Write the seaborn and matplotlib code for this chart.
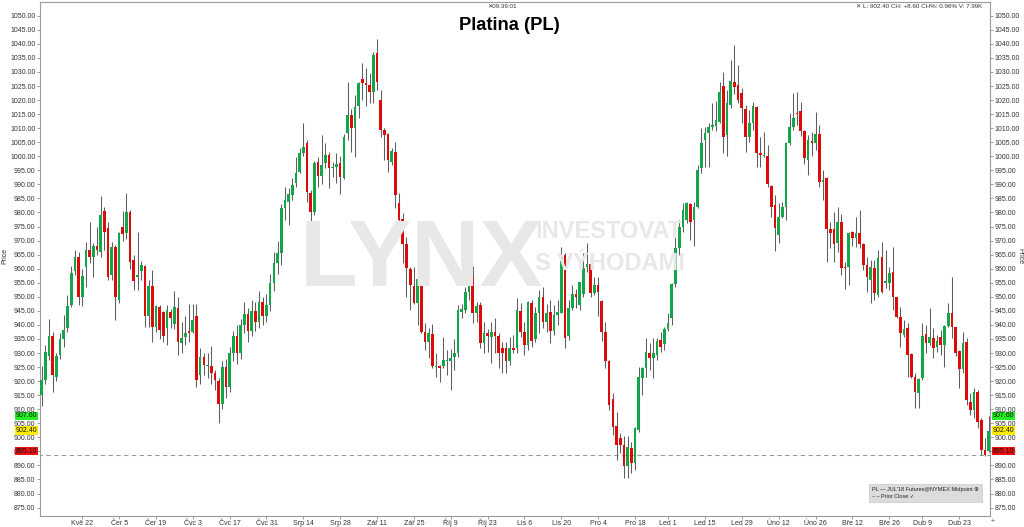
import numpy as np
import pandas as pd
import matplotlib
matplotlib.use("Agg")
import matplotlib.pyplot as plt
import seaborn as sns

# daily OHLC, PL (platinum) JUL'18 futures, May 2017 - May 2018
opens = [
    915, 920.5, 929, 936, 921.6, 929.3, 935, 939, 947, 959.3,
    964, 950, 960.7, 966.7, 964, 968, 966, 980.6, 974.4, 957.8,
    967.6, 949, 974.7, 972.6, 980, 963, 957.2, 959.3, 961, 943,
    954, 939.4, 946.5, 944.7, 939, 944.7, 940.3, 946, 933.7, 935.6,
    937.8, 937.6, 943, 922.2, 928.5, 925.5, 925.4, 923, 920, 912,
    925, 918, 930, 936, 930, 940, 944, 938, 945, 941,
    948, 943, 947, 955, 962, 965.5, 981.5, 983.8, 986.2, 990.4,
    994.5, 1001, 1004.6, 987, 980, 998.1, 993, 997.5, 1000.4, 995.8,
    996.3, 997.5, 992.1, 1008.2, 1014.7, 1010, 1017.9, 1027.4, 1026.2, 1025.4,
    1023, 1036.6, 1020.2, 1009.3, 1007.9, 998.1, 1001.6, 983.5, 977.6, 968.8,
    959.8, 953.8, 947.9, 955.7, 937.6, 934, 936.8, 925, 925.5, 925.4,
    927.3, 927.3, 928.5, 929.9, 944.7, 945.3, 951.8, 957.4, 944.1, 947.1,
    933.4, 937, 935.6, 937.6, 936, 931.7, 931.7, 927, 931.9, 931.7,
    945.1, 937.6, 932.9, 947.7, 934.9, 944.1, 950, 941.1, 944.7, 937.9,
    943.5, 944.4, 964.9, 936.1, 945.9, 951, 947.1, 951, 960.5, 961.7,
    951.2, 954.2, 948.6, 937.6, 927, 913.5, 904, 899.6, 897.3, 889.8,
    896.3, 891, 902.6, 921, 924.6, 930.1, 928.1, 929.3, 934.6, 933.2,
    938.4, 942.3, 954.5, 967.2, 974.9, 977.3, 983, 977.3, 982.1, 995.7,
    1005.8, 1008.2, 1010.3, 1010.8, 1012.3, 1025, 1007.6, 1018.2, 1026.5, 1025.4,
    1022.6, 1016.7, 1007, 1011.7, 1017.6, 1001, 1000.1, 1000.1, 989.4, 982.7,
    972, 978.5, 982.1, 1004.6, 1010.3, 1015.5, 1016.2, 1009.1, 998.7, 1005.3,
    1004.6, 1008.1, 991, 992.1, 974, 974.3, 969, 976.7, 960.7, 960.7,
    973.2, 970.8, 972.8, 968.8, 961.3, 956, 960.1, 950.6, 964, 955,
    955, 958.9, 949.8, 942.9, 936.4, 938.8, 929.7, 921.3, 915.9, 921,
    936.8, 933.4, 935.2, 932, 935.6, 932.9, 939.6, 944.3, 939.1, 930.8,
    924.2, 934, 912.7, 909.7, 916.2, 906.2, 895.5, 895.1,
]
highs = [
    925.5, 933, 942, 937.5, 930, 937, 943.5, 950.5, 961, 966.7,
    966, 960, 969.6, 976.7, 969, 975, 986, 982, 976.7, 969.6,
    968.4, 973.2, 980.6, 986.8, 981, 964.9, 973, 962.9, 961.3, 956,
    959.5, 947, 947, 945, 947, 945.5, 952, 950, 941, 943,
    947.6, 947.6, 947.6, 931.7, 930, 930, 932.5, 924, 921, 927,
    928, 932, 938, 940, 942, 948, 946, 949, 948, 952,
    950, 951, 958, 966, 970, 983, 989, 988.6, 992.1, 999.8,
    1002.8, 1011.7, 1005.8, 988, 998.4, 999.8, 1007.6, 1004.6, 1001.6, 998.1,
    1001, 1000, 1008.1, 1026.5, 1017, 1021.8, 1026.5, 1033.3, 1031.3, 1029.7,
    1037.2, 1041.9, 1023.6, 1009.9, 1008.2, 1003, 1005.2, 986.8, 979.7, 971.4,
    960.7, 960.7, 956.6, 960.7, 940.6, 938.8, 940.3, 929.9, 925.7, 935.8,
    931.1, 931.6, 934.9, 947.1, 947.6, 953.6, 960.1, 960.9, 948.3, 948.3,
    941.1, 938.4, 941.1, 942.3, 937, 934, 934, 935.8, 936.4, 949.5,
    947.7, 941.1, 948.6, 948.8, 946.5, 952.4, 953.6, 947.6, 948.8, 947,
    948.8, 967.8, 965.5, 948.8, 954.2, 952.7, 955.4, 965.5, 969.2, 965.5,
    957.2, 957.2, 948.8, 941.1, 927.5, 915.6, 909.1, 901.4, 900.3, 900.3,
    898.5, 903.8, 925.1, 925.1, 935.2, 933.4, 935.2, 935.2, 937.6, 939.4,
    944.1, 954.8, 972, 977.3, 983.2, 983.8, 983.5, 983.8, 996.9, 1009.9,
    1010.3, 1011.7, 1018.8, 1019.8, 1026.5, 1030.1, 1023.6, 1034.2, 1039.6, 1032.5,
    1024.2, 1018.2, 1016.5, 1019.4, 1017.9, 1007, 1008.7, 1004, 989.8, 986.2,
    983.2, 983.8, 1005.2, 1015.3, 1022.4, 1022.7, 1019.4, 1009.3, 1007.6, 1008.7,
    1015.9, 1011.1, 995.1, 992.7, 976.7, 980.3, 982.1, 979.4, 962.5, 973.2,
    973.5, 978.5, 980.9, 969, 964.3, 963.1, 963.1, 966.6, 969.6, 966.6,
    960.7, 967.8, 950, 946.5, 941.7, 940.6, 929.9, 922.8, 921, 940.6,
    940, 945.9, 938.8, 936.4, 938.2, 940, 947.7, 957.2, 939.4, 931.1,
    937.6, 935.2, 915.6, 917.4, 916.8, 906.8, 899.6, 907.6,
]
lows = [
    911, 919, 927.5, 916, 920, 928, 932, 937.6, 946.5, 957.8,
    947, 946.7, 953.6, 962, 957, 964.9, 964, 966.7, 956, 956,
    941.7, 947.7, 970, 970.4, 960, 952.4, 952.4, 956, 939.4, 939.4,
    934, 937.6, 935, 934, 933, 939, 938.5, 929.3, 930, 933,
    934, 937, 918, 919, 922, 921, 919, 917, 905, 910,
    914, 916, 927, 926, 928, 937, 934, 936, 938, 939,
    940, 941, 945, 952, 958, 961.3, 977.3, 975.5, 984.4, 989.2,
    993.9, 1000, 983.8, 969.6, 979, 989.2, 990, 995.7, 988.6, 992.7,
    990.4, 986.6, 991.8, 1005.8, 1001.6, 999.6, 1013.5, 1020, 1017.9, 1019,
    1018.8, 1023.6, 1007, 998.7, 994.5, 997, 981.5, 973.8, 961.9, 950,
    945.3, 947.6, 940, 937, 931.1, 928.1, 924.6, 921.6, 919.8, 924.6,
    922.2, 916.9, 924, 928.7, 942.4, 944.1, 948.8, 940.6, 941, 931.7,
    929.9, 930.5, 926.3, 929.9, 924.6, 922.8, 922.8, 925.7, 929.9, 929.9,
    935.8, 929.3, 931.1, 932.3, 934, 937, 939, 937.6, 933.4, 936.4,
    940, 944.1, 931.7, 934.6, 945.3, 946, 945.3, 950, 958.9, 950,
    950.6, 943, 934.4, 924.6, 909.7, 900.8, 891.9, 894.3, 885.4, 885.4,
    887.2, 888.4, 902, 915.1, 921.6, 924, 921, 927.5, 930.5, 931,
    937.9, 940, 953.6, 964.9, 973.2, 976.1, 970.2, 968.1, 981.5, 993.9,
    996.3, 996.3, 1009.3, 1009, 1011.7, 1001, 1000, 1017.1, 1022, 1018.8,
    1011.7, 1001.6, 1005.2, 1009.3, 996.3, 996.3, 999.8, 989.2, 978.5, 966.4,
    969, 977.9, 977.3, 1004, 1009.3, 1011.1, 1007.2, 997.2, 993.3, 1000,
    1002.2, 989.2, 984.4, 962.5, 967.2, 962.5, 966, 957.7, 952.7, 954.2,
    968, 967.8, 967.2, 959.5, 951.8, 947.7, 948.8, 950, 951.2, 953,
    952.4, 945.3, 942.3, 932, 935.8, 921.6, 921, 910.3, 910.3, 920.4,
    930, 932.9, 928.1, 930.5, 929.3, 925.1, 939.4, 935.2, 928.9, 917.4,
    922.8, 911.5, 908, 906.8, 903.2, 893.7, 893.2, 894.6,
]
closes = [
    920.5, 930.5, 936, 922, 929, 935, 938.2, 946.7, 958.3, 964,
    950, 957.5, 966.7, 964.3, 968, 966.5, 979, 973, 957.2, 967.6,
    949.8, 972.8, 972.3, 980, 962.5, 955.7, 957.6, 961.3, 943, 953.8,
    939.4, 946.7, 938.2, 936, 945.3, 942.4, 946.5, 934, 935.2, 937.2,
    937, 941.8, 920.4, 928.7, 925.7, 925.9, 922.8, 920.4, 912, 925,
    918, 930, 936, 930, 940, 944, 938, 945, 941, 948,
    943, 947, 955, 962, 965.5, 981.5, 984.4, 986.6, 989.8, 994.2,
    1001, 1003.2, 987.4, 980, 997.7, 993, 997, 1000.4, 995.7, 996.2,
    997.3, 992.7, 1006.9, 1014.7, 1010, 1017.4, 1026.2, 1026, 1025.4, 1023,
    1036, 1026.5, 1009.3, 1007.6, 998.7, 1002, 986.2, 977.3, 968.8, 960.1,
    954.2, 947.9, 956.2, 937.6, 934, 937.2, 925.4, 925.2, 924.6, 927.5,
    927.6, 928.1, 929.9, 945.3, 945.5, 951.8, 959.3, 944.1, 946.7, 933.4,
    937, 936, 937.6, 936.1, 929.9, 929.9, 927, 931.7, 931, 945.3,
    937.6, 932.9, 948.3, 934.4, 944.1, 950, 941.1, 944.1, 937.9, 943.5,
    944.7, 964, 935.2, 945.9, 951, 949.8, 955.4, 960.1, 961.7, 951.2,
    954.2, 951.8, 937.6, 927, 911.5, 903.8, 897.3, 897.3, 889.8, 896.7,
    891, 903.2, 921.6, 924.6, 930.5, 928.1, 930.1, 934.4, 932.3, 938.4,
    940.6, 954.5, 967.2, 974.9, 980.9, 983.2, 976.7, 981.8, 995.1, 1004.6,
    1008.2, 1010.3, 1011.1, 1012.9, 1023, 1007, 1018.8, 1026.9, 1024.8, 1020,
    1017.1, 1007, 1011.7, 1017.9, 1001.3, 1000.4, 1000.4, 990.1, 982.1, 974.4,
    978.5, 982.1, 1004.6, 1010.5, 1013.8, 1015, 1009.1, 999.3, 1005.8, 1004.7,
    1008.1, 991, 991.5, 974.3, 972.8, 968.8, 976.7, 960.1, 960.2, 972.6,
    970.8, 972.6, 968.8, 961.3, 957.2, 960.7, 951.2, 963.7, 951.8, 955.7,
    958.6, 949.8, 942.9, 937, 938.4, 929.3, 921.3, 916.2, 920.6, 936.1,
    933.4, 935.6, 931.7, 934.4, 932.9, 939.6, 944.3, 939.4, 930.1, 924.2,
    933.4, 913.3, 909.7, 916.2, 905.6, 895.5, 893.8, 902.4,
]

start_date = "2017-05-05"
closed_days = ["2017-12-25", "2018-03-30"]
tick_labels = ["Kvě 22", "Čer 5", "Čer 19", "Čvc 3", "Čvc 17", "Čvc 31", "Srp 14",
               "Srp 28", "Zář 11", "Zář 25", "Říj 9", "Říj 23", "Lis 6", "Lis 20",
               "Pro 4", "Pro 18", "Led 1", "Led 15", "Led 29", "Úno 12", "Úno 26",
               "Bře 12", "Bře 26", "Dub 9", "Dub 23"]
prior_close = 893.80
last_price = 902.40
day_high = 907.60
day_low = 895.10

n = len(closes)
days = pd.bdate_range(start_date, periods=n + 10)
days = days[~days.isin(pd.to_datetime(closed_days))][:n]
df = pd.DataFrame({"date": days, "open": opens, "high": highs,
                   "low": lows, "close": closes})
df["pos"] = np.arange(n)
df["up"] = df["close"] >= df["open"]

sns.set_theme(style="white")
plt.rcParams["font.family"] = ["Liberation Sans", "DejaVu Sans"]

W, H = 1024, 527
fig = plt.figure(figsize=(W / 100, H / 100), dpi=100)
ax = fig.add_axes([40 / W, 1 - 516 / H, 950 / W, 514 / H])

green = "#12a54a"
red = "#dd0a0a"

# watermark
fig.text(300 / W, 1 - 262 / H, "LYNX", fontsize=68, fontweight="bold",
         color="#e8e8e8", ha="left", va="center", zorder=0)
fig.text(535 / W, 1 - 231 / H, "INVESTOVAT", fontsize=17, fontweight="bold",
         color="#e8e8e8", ha="left", va="center", zorder=0)
fig.text(535 / W, 1 - 264 / H, "S VÝHODAMI", fontsize=17, fontweight="bold",
         color="#e8e8e8", ha="left", va="center", zorder=0)
ax.set_facecolor("none")

# prior close
sns.lineplot(x=[-1, n + 1], y=[prior_close, prior_close], ax=ax,
             color="#9a9a9a", lw=0.8, linestyle=(0, (4, 3)))

ax.vlines(df["pos"], df["low"], df["high"], color="#5e5e5e", lw=0.75, zorder=2)
body_bottom = df[["open", "close"]].min(axis=1)
body_h = (df["close"] - df["open"]).abs().clip(lower=0.35)
ax.bar(df["pos"], body_h, bottom=body_bottom, width=0.72,
       color=np.where(df["up"], green, red), linewidth=0, zorder=3)

ax.set_xlim(-0.46, n - 1 + 0.35)
ax.set_ylim(872.0, 1054.9)

ticks = pd.date_range("2017-05-22", periods=len(tick_labels), freq="14D")
tick_pos = np.searchsorted(df["date"].values, ticks.values)
ax.set_xticks(tick_pos)
ax.set_xticklabels(tick_labels, va="center")
ax.set_yticks(np.arange(875, 1051, 5))
ax.yaxis.set_major_formatter(matplotlib.ticker.FormatStrFormatter("%.2f"))
ax.tick_params(axis="y", left=True, right=True, labelleft=True, labelright=True,
               length=2, width=0.5, color="#777777", pad=1.2,
               labelsize=5, labelcolor="#333333", direction="out")
ax.tick_params(axis="x", bottom=True, length=2, width=0.5, color="#777777",
               pad=3.2, labelsize=5, labelcolor="#333333")
for side in ["left", "right", "bottom", "top"]:
    ax.spines[side].set_color("#9a9a9a")
    ax.spines[side].set_linewidth(0.8)
ax.grid(False)

fig.text(5 / W, 1 - 256 / H, "Price", rotation=90, fontsize=5, color="#333333",
         ha="center", va="center")
fig.text(1020 / W, 1 - 256 / H, "Price", rotation=270, fontsize=5, color="#333333",
         ha="center", va="center")

# price markers on both axes
for val, col in [(day_high, "#22ee22"), (last_price, "#ffee00"), (day_low, "#ee1111")]:
    ax.text(-0.003, val, f"{val:.2f}", transform=ax.get_yaxis_transform(),
            ha="right", va="center", fontsize=5, color="#111111", zorder=5,
            bbox=dict(boxstyle="square,pad=0.12", fc=col, ec="none"), clip_on=False)
    ax.text(1.003, val, f"{val:.2f}", transform=ax.get_yaxis_transform(),
            ha="left", va="center", fontsize=5, color="#111111", zorder=5,
            bbox=dict(boxstyle="square,pad=0.12", fc=col, ec="none"), clip_on=False)

fig.text(509 / W, 1 - 26 / H, "Platina (PL)", fontsize=13.2, fontweight="bold",
         color="black", ha="center", va="center")
fig.text(502 / W, 1 - 6 / H, "✕09:39:01", fontsize=4.5, color="#333333",
         ha="center", va="center", family=["Liberation Sans", "DejaVu Sans"])
fig.text(982 / W, 1 - 6 / H, "✕ L: 902.40 CH: +8.60 CH%: 0.96% V: 7.99K",
         fontsize=4.5, color="#333333", ha="right", va="center",
         family=["Liberation Sans", "DejaVu Sans"])
fig.text(872 / W, 1 - 493 / H,
         "PL — JUL'18 Futures@NYMEX Midpoint ⊕\n– – Prior Close ✓",
         fontsize=4, color="#222222", ha="left", va="center", linespacing=1.5,
         family=["Liberation Sans", "DejaVu Sans"],
         bbox=dict(boxstyle="square,pad=0.5", fc="#dcdcdc", ec="#c8c8c8", lw=0.5))
fig.text(993 / W, 1 - 521 / H, "+", fontsize=5, color="#555555",
         ha="center", va="center")

fig.savefig("out.png", dpi=100)
